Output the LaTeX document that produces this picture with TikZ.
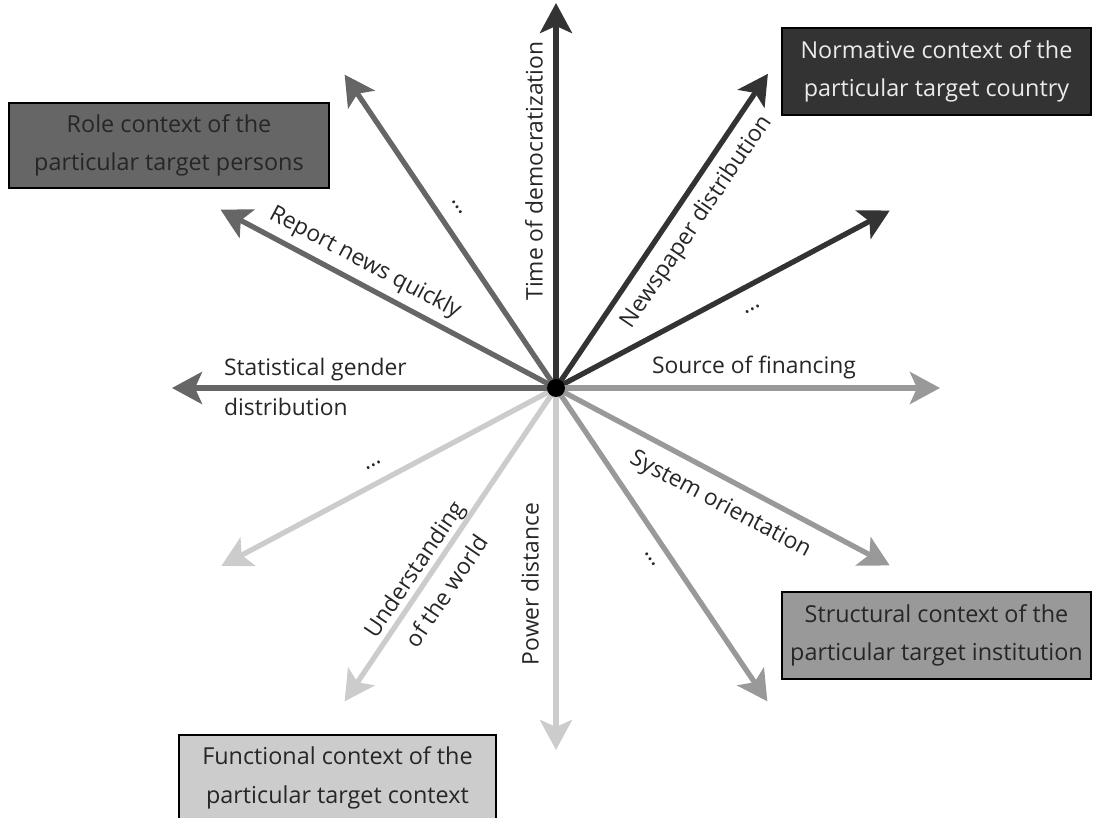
\documentclass[tikz,border=0pt]{standalone}
\usepackage{fontspec}
\setmainfont{Open Sans}
\usepackage{tikz}
\usetikzlibrary{arrows.meta}

\definecolor{normgray}{HTML}{333333}
\definecolor{rolegray}{HTML}{666666}
\definecolor{structgray}{HTML}{999999}
\definecolor{funcgray}{HTML}{CCCCCC}

\begin{document}
\begin{tikzpicture}[x=0.02cm, y=0.02cm,
    ray/.style={line width=3pt, -{Stealth[length=0.6cm, width=0.64cm, inset=0.14cm]}},
    lbl/.style={font=\fontsize{13}{22.5}\selectfont, text=black!85, inner sep=1pt},
    ctxbox/.style={draw=black, line width=1.1pt, align=center, inner sep=0pt,
                   font=\fontsize{13.3}{22}\selectfont}]

    % Fix the picture size
    \useasboundingbox (-556,-430) rectangle (537,388);

    % Hub and arrow tips
    \coordinate (o) at (0,0);
    \coordinate (t90) at (90:385);
    \coordinate (t124) at (124:378);
    \coordinate (t152) at (152:380);
    \coordinate (t180) at (180:384);
    \coordinate (t208) at (208:379);
    \coordinate (t236) at (236:378);
    \coordinate (t270) at (270:362);
    \coordinate (t304) at (304:378);
    \coordinate (t332) at (332:378);
    \coordinate (t0) at (0:384);
    \coordinate (t28) at (28:378);
    \coordinate (t56) at (56:379);

    % Normative context arrows
    \draw[ray, normgray] (o) -- (t90);
    \draw[ray, normgray] (o) -- (t56);
    \draw[ray, normgray] (o) -- (t28);

    % Structural context arrows
    \draw[ray, structgray] (o) -- (t0);
    \draw[ray, structgray] (o) -- (t332);
    \draw[ray, structgray] (o) -- (t304);

    % Functional context arrows
    \draw[ray, funcgray] (o) -- (t270);
    \draw[ray, funcgray] (o) -- (t236);
    \draw[ray, funcgray] (o) -- (t208);

    % Role context arrows
    \draw[ray, rolegray] (o) -- (t180);
    \draw[ray, rolegray] (o) -- (t152);
    \draw[ray, rolegray] (o) -- (t124);

    % Hub dot
    \node[circle, fill=black, inner sep=0pt, minimum size=0.36cm] (hub) at (o) {};

    % Arrow labels
    \node[lbl, rotate=90] (democ) at (-22,217) {Time of democratization};
    \node[lbl, rotate=56] (paper) at (141,166) {Newspaper distribution};
    \node[lbl, rotate=28, anchor=base] (dotsne) at (197,78) {\ldots};
    \node[lbl] (finance) at (198,20) {Source of financing};
    \node[lbl, rotate=-28] (orient) at (164,-117) {System orientation};
    \node[lbl, rotate=-56, anchor=base] (dotsse) at (94,-172) {\ldots};
    \node[lbl, rotate=90] (power) at (-26,-196) {Power distance};
    \node[lbl, rotate=56, align=center] (world) at (-126,-192) {Understanding\\of the world};
    \node[lbl, rotate=28, anchor=base] (dotssw) at (-182,-78) {\ldots};
    \node[lbl, anchor=west, align=left] (gender) at (-334,1) {Statistical gender\\distribution};
    \node[lbl, rotate=-28] (quick) at (-191,125) {Report news quickly};
    \node[lbl, rotate=-56, anchor=base] (dotsnw) at (-99,180) {\ldots};

    % Context boxes
    \node[ctxbox, fill=normgray, text=white!92!black, minimum width=6.18cm, minimum height=1.74cm]
        (normative) at (380.5,316.5) {Normative context of the\\particular target country};
    \node[ctxbox, fill=rolegray, text=black!85, minimum width=6.4cm, minimum height=1.7cm]
        (role) at (-387,242.5) {Role context of the\\particular target persons};
    \node[ctxbox, fill=structgray, text=black!85, minimum width=6.18cm, minimum height=1.74cm]
        (structural) at (380.5,-247.5) {Structural context of the\\particular target institution};
    \node[ctxbox, fill=funcgray, text=black!85, minimum width=6.34cm, minimum height=1.72cm]
        (functional) at (-218.5,-390) {Functional context of the\\particular target context};

\end{tikzpicture}
\end{document}
